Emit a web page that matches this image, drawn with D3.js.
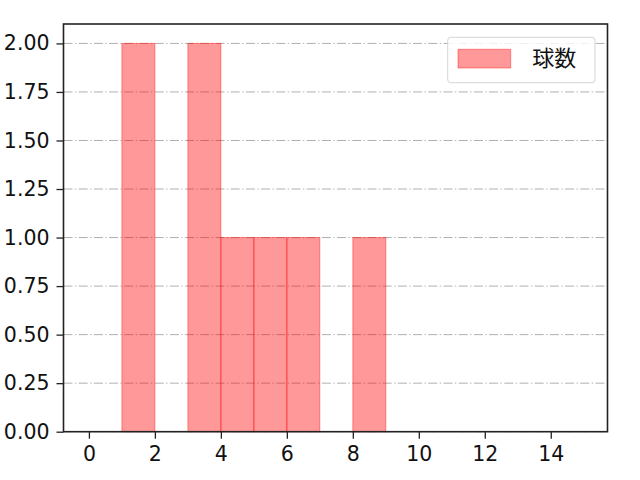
<!DOCTYPE html>
<html>
<head>
<meta charset="utf-8">
<script src="https://cdn.jsdelivr.net/npm/d3@7"></script>
<style>
  body { margin: 0; background: #fff; }
  svg { display: block; font-family: "DejaVu Sans", "Noto Sans CJK JP", sans-serif; }
</style>
</head>
<body>
<div id="chart"></div>
<script>
// Histogram bins (left edge, right edge) and counts.
const binStarts = [1, 3, 4, 5, 6, 8];
const binEnds = [2, 4, 5, 6, 7, 9];
const counts = [2, 2, 1, 1, 1, 1];
const xTicks = [0, 2, 4, 6, 8, 10, 12, 14];
const yTicks = [0, 0.25, 0.5, 0.75, 1, 1.25, 1.5, 1.75, 2];
const seriesName = '球数';

(function(){
  const width = 640, height = 480;
  const margin = {top: 24, right: 32.5, bottom: 48.3, left: 63.5};
  const innerWidth = width - margin.left - margin.right;
  const innerHeight = height - margin.top - margin.bottom;

  const svg = d3.select('#chart').append('svg')
    .attr('width', width).attr('height', height);
  const plot = svg.append('g')
    .attr('transform', `translate(${margin.left},${margin.top})`);

  const x = d3.scaleLinear().domain([-0.77, 15.72]).range([0, innerWidth]);
  const y = d3.scaleLinear().domain([0, 2.1]).range([innerHeight, 0]);

  // Dash-dot horizontal grid lines.
  plot.append('g').selectAll('line')
    .data(yTicks)
    .join('line')
    .attr('x1', 0).attr('x2', innerWidth)
    .attr('y1', d => y(d)).attr('y2', d => y(d))
    .attr('stroke', '#b0b0b0')
    .attr('stroke-width', 1)
    .attr('stroke-dasharray', '9,2.4,1.4,2.4');

  const bins = counts.map((c, i) => ({x0: binStarts[i], x1: binEnds[i], count: c}));

  plot.append('g').selectAll('rect')
    .data(bins)
    .join('rect')
    .attr('x', d => x(d.x0))
    .attr('width', d => x(d.x1) - x(d.x0))
    .attr('y', d => y(d.count))
    .attr('height', d => innerHeight - y(d.count))
    .attr('fill', 'rgb(255,0,0)')
    .attr('fill-opacity', 0.4)
    .attr('stroke', 'rgb(255,0,0)')
    .attr('stroke-opacity', 0.4)
    .attr('stroke-width', 1);

  const fmt = d3.format('.2f');
  const xAxis = plot.append('g')
    .attr('transform', `translate(0,${innerHeight})`)
    .call(d3.axisBottom(x).tickValues(xTicks).tickSize(7).tickPadding(7));
  const yAxis = plot.append('g')
    .call(d3.axisLeft(y).tickValues(yTicks).tickFormat(fmt).tickSize(7).tickPadding(7));

  [xAxis, yAxis].forEach(g => {
    g.select('.domain').remove();
    g.selectAll('line').attr('stroke', '#222').attr('stroke-width', 1.3);
    g.selectAll('text')
      .attr('fill', '#111')
      .style('font-size', '20.5px')
      .style('font-family', '"DejaVu Sans", sans-serif');
  });
  xAxis.selectAll('text').attr('dy', '0.75em');

  // Axes frame.
  plot.append('rect')
    .attr('width', innerWidth).attr('height', innerHeight)
    .attr('fill', 'none').attr('stroke', '#222').attr('stroke-width', 1.6);

  // Legend in the upper right.
  const legend = plot.append('g')
    .attr('transform', `translate(${447.7 - margin.left},${37.3 - margin.top})`);
  legend.append('rect')
    .attr('width', 147.3).attr('height', 45.4)
    .attr('rx', 3)
    .attr('fill', 'rgba(255,255,255,0.8)')
    .attr('stroke', '#d5d5d5');
  legend.append('rect')
    .attr('x', 10.3).attr('y', 12)
    .attr('width', 52.7).attr('height', 18.7)
    .attr('fill', 'rgb(255,0,0)').attr('fill-opacity', 0.4)
    .attr('stroke', 'rgb(255,0,0)').attr('stroke-opacity', 0.4);
  legend.append('text')
    .attr('x', 84.5).attr('y', 29)
    .attr('fill', '#111')
    .style('font-family', '"Noto Sans CJK JP", sans-serif')
    .style('font-size', '22px')
    .text(seriesName);
})();
</script>
</body>
</html>
